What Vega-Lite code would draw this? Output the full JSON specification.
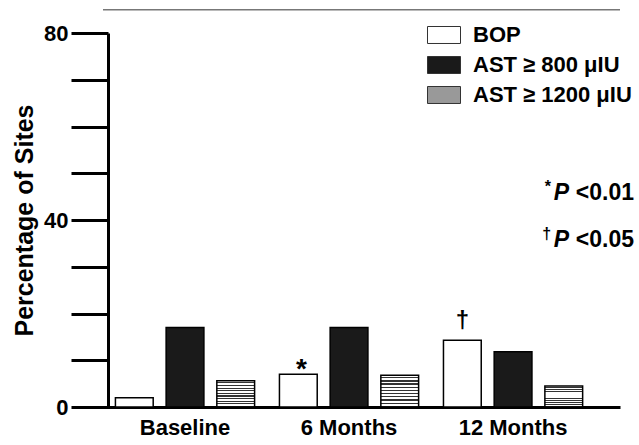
{
  "$schema": "https://vega.github.io/schema/vega-lite/v6.json",
  "width": 517,
  "height": 374,
  "autosize": {"type": "none"},
  "padding": {"left": 103, "top": 33, "right": 19, "bottom": 38},
  "background": "white",
  "config": {"view": {"stroke": null}, "font": "Liberation Sans"},
  "datasets": {
    "bars": [
      {"group": "Baseline", "series": "BOP", "value": 2},
      {"group": "Baseline", "series": "AST ≥ 800 μIU", "value": 17},
      {"group": "Baseline", "series": "AST ≥ 1200 μIU", "value": 5.6},
      {"group": "6 Months", "series": "BOP", "value": 7},
      {"group": "6 Months", "series": "AST ≥ 800 μIU", "value": 17},
      {"group": "6 Months", "series": "AST ≥ 1200 μIU", "value": 6.8},
      {"group": "12 Months", "series": "BOP", "value": 14.3},
      {"group": "12 Months", "series": "AST ≥ 800 μIU", "value": 11.8},
      {"group": "12 Months", "series": "AST ≥ 1200 μIU", "value": 4.5}
    ],
    "marks": [
      {"group": "6 Months", "series": "BOP", "value": 7, "sym": "*"},
      {"group": "12 Months", "series": "BOP", "value": 14.3, "sym": "†"}
    ],
    "notes": [
      {"sym": "*", "p": "P", "rest": "<0.01", "level": 45.8},
      {"sym": "†", "p": "P", "rest": "<0.05", "level": 35.7}
    ],
    "frame": [{"level": 85}]
  },
  "layer": [
    {
      "data": {"name": "frame"},
      "mark": {"type": "rule", "color": "#777777", "strokeWidth": 1.5},
      "encoding": {"y": {"field": "level", "type": "quantitative"}}
    },
    {
      "data": {"name": "bars"},
      "mark": {"type": "bar", "stroke": "black", "strokeWidth": 1.5},
      "encoding": {
        "x": {
          "field": "group", "type": "nominal",
          "sort": ["Baseline", "6 Months", "12 Months"],
          "scale": {"paddingInner": 0, "paddingOuter": 0.076, "align": 0},
          "axis": {
            "title": null, "labelAngle": 0, "labelFont": "Liberation Sans", "labelFontSize": 22,
            "labelFontWeight": "bold", "labelColor": "black", "labelPadding": 10,
            "ticks": false, "domainColor": "black", "domainWidth": 3
          }
        },
        "xOffset": {
          "field": "series", "type": "nominal",
          "sort": ["BOP", "AST ≥ 800 μIU", "AST ≥ 1200 μIU"],
          "scale": {"paddingInner": 0.255, "paddingOuter": 0.245}
        },
        "y": {
          "field": "value", "type": "quantitative",
          "scale": {"domain": [0, 80], "nice": false},
          "axis": {
            "values": [0, 10, 20, 30, 40, 50, 60, 70, 80],
            "labelExpr": "datum.value % 40 === 0 ? datum.label : ''",
            "title": "Percentage of Sites", "titleFont": "Liberation Sans", "titleFontSize": 25,
            "titleFontWeight": "bold", "titleColor": "black", "titlePadding": 6,
            "labelFont": "Liberation Sans", "labelFontSize": 22, "labelFontWeight": "bold",
            "labelColor": "black", "labelPadding": 3,
            "tickSize": 37, "tickWidth": 3, "tickColor": "black",
            "domainColor": "black", "domainWidth": 3, "grid": false, "offset": -5
          }
        },
        "fill": {
          "condition": {
            "test": "datum.series === 'AST ≥ 1200 μIU'",
            "value": {"gradient": "linear", "x1": 0, "y1": 0, "x2": 0, "y2": 1, "stops": [
                {"offset": 0, "color": "white"}, {"offset": 0.06, "color": "white"}, {"offset": 0.06, "color": "#333"}, {"offset": 0.1, "color": "#333"},
                {"offset": 0.1, "color": "white"}, {"offset": 0.16, "color": "white"}, {"offset": 0.16, "color": "#333"}, {"offset": 0.2, "color": "#333"},
                {"offset": 0.2, "color": "white"}, {"offset": 0.26, "color": "white"}, {"offset": 0.26, "color": "#333"}, {"offset": 0.3, "color": "#333"},
                {"offset": 0.3, "color": "white"}, {"offset": 0.36, "color": "white"}, {"offset": 0.36, "color": "#333"}, {"offset": 0.4, "color": "#333"},
                {"offset": 0.4, "color": "white"}, {"offset": 0.46, "color": "white"}, {"offset": 0.46, "color": "#333"}, {"offset": 0.5, "color": "#333"},
                {"offset": 0.5, "color": "white"}, {"offset": 0.56, "color": "white"}, {"offset": 0.56, "color": "#333"}, {"offset": 0.6, "color": "#333"},
                {"offset": 0.6, "color": "white"}, {"offset": 0.66, "color": "white"}, {"offset": 0.66, "color": "#333"}, {"offset": 0.7, "color": "#333"},
                {"offset": 0.7, "color": "white"}, {"offset": 0.76, "color": "white"}, {"offset": 0.76, "color": "#333"}, {"offset": 0.8, "color": "#333"},
                {"offset": 0.8, "color": "white"}, {"offset": 0.86, "color": "white"}, {"offset": 0.86, "color": "#333"}, {"offset": 0.9, "color": "#333"},
                {"offset": 0.9, "color": "white"}, {"offset": 0.96, "color": "white"}, {"offset": 0.96, "color": "#333"}, {"offset": 1, "color": "#333"}
              ]}
          },
          "field": "series", "type": "nominal",
          "sort": ["BOP", "AST ≥ 800 μIU", "AST ≥ 1200 μIU"],
          "scale": {
            "domain": ["BOP", "AST ≥ 800 μIU", "AST ≥ 1200 μIU"],
            "range": ["white", "#1a1a1a", "#999999"]
          },
          "legend": {
            "orient": "none", "legendX": 324, "legendY": -15, "title": null, "padding": 0,
            "symbolType": "M-1,-0.515H1V0.515H-1Z", "symbolSize": 1089,
            "symbolStrokeColor": "black", "symbolStrokeWidth": 1, "symbolOpacity": 1,
            "labelFont": "Liberation Sans", "labelFontSize": 22, "labelFontWeight": "bold",
            "labelColor": "black", "labelOffset": 12, "rowPadding": 2,
            "encode": {
              "symbols": {
                "update": {
                  "fill": {"signal": "datum.value === 'AST ≥ 1200 μIU' ? {gradient: 'linear', x1: 0, y1: 0, x2: 0, y2: 1, stops: [{offset: 0, color: 'white'}, {offset: 0.1, color: 'white'}, {offset: 0.1, color: '#333'}, {offset: 0.1667, color: '#333'}, {offset: 0.1667, color: 'white'}, {offset: 0.2667, color: 'white'}, {offset: 0.2667, color: '#333'}, {offset: 0.3333, color: '#333'}, {offset: 0.3333, color: 'white'}, {offset: 0.4333, color: 'white'}, {offset: 0.4333, color: '#333'}, {offset: 0.5, color: '#333'}, {offset: 0.5, color: 'white'}, {offset: 0.6, color: 'white'}, {offset: 0.6, color: '#333'}, {offset: 0.6667, color: '#333'}, {offset: 0.6667, color: 'white'}, {offset: 0.7667, color: 'white'}, {offset: 0.7667, color: '#333'}, {offset: 0.8333, color: '#333'}, {offset: 0.8333, color: 'white'}, {offset: 0.9333, color: 'white'}, {offset: 0.9333, color: '#333'}, {offset: 1, color: '#333'}]} : scale('fill', datum.value)"},
                  "stroke": {"value": "#333333"},
                  "strokeWidth": {"value": 1},
                  "opacity": {"value": 1}
                }
              }
            }
          }
        }
      }
    },
    {
      "data": {"name": "marks"},
      "transform": [{"filter": "datum.sym === '*'"}],
      "mark": {"type": "text", "font": "Liberation Sans", "fontSize": 28, "fontWeight": "bold", "baseline": "alphabetic", "dy": 4, "dx": 3, "color": "black"},
      "encoding": {
        "x": {"field": "group", "type": "nominal", "sort": ["Baseline", "6 Months", "12 Months"]},
        "xOffset": {"field": "series", "type": "nominal", "sort": ["BOP", "AST ≥ 800 μIU", "AST ≥ 1200 μIU"]},
        "y": {"field": "value", "type": "quantitative"},
        "text": {"field": "sym"}
      }
    },
    {
      "data": {"name": "marks"},
      "transform": [{"filter": "datum.sym !== '*'"}],
      "mark": {"type": "text", "font": "Liberation Sans", "fontSize": 24, "fontWeight": "bold", "baseline": "alphabetic", "dy": -12, "color": "black"},
      "encoding": {
        "x": {"field": "group", "type": "nominal", "sort": ["Baseline", "6 Months", "12 Months"]},
        "xOffset": {"field": "series", "type": "nominal", "sort": ["BOP", "AST ≥ 800 μIU", "AST ≥ 1200 μIU"]},
        "y": {"field": "value", "type": "quantitative"},
        "text": {"field": "sym"}
      }
    },
    {
      "data": {"name": "notes"},
      "mark": {"type": "text", "font": "Liberation Sans", "fontSize": 23, "fontWeight": "bold", "align": "right", "baseline": "middle", "dx": 121, "color": "black"},
      "encoding": {
        "x": {"datum": "12 Months", "type": "nominal"},
        "y": {"field": "level", "type": "quantitative"},
        "text": {"field": "rest"}
      }
    },
    {
      "data": {"name": "notes"},
      "mark": {"type": "text", "font": "Liberation Sans", "fontSize": 23, "fontWeight": "bold", "fontStyle": "italic", "align": "right", "baseline": "middle", "dx": 56, "color": "black"},
      "encoding": {
        "x": {"datum": "12 Months", "type": "nominal"},
        "y": {"field": "level", "type": "quantitative"},
        "text": {"field": "p"}
      }
    },
    {
      "data": {"name": "notes"},
      "mark": {"type": "text", "font": "Liberation Sans", "fontSize": 16, "fontWeight": "bold", "align": "right", "baseline": "middle", "dx": 38, "dy": -6, "color": "black"},
      "encoding": {
        "x": {"datum": "12 Months", "type": "nominal"},
        "y": {"field": "level", "type": "quantitative"},
        "text": {"field": "sym"}
      }
    }
  ]
}
